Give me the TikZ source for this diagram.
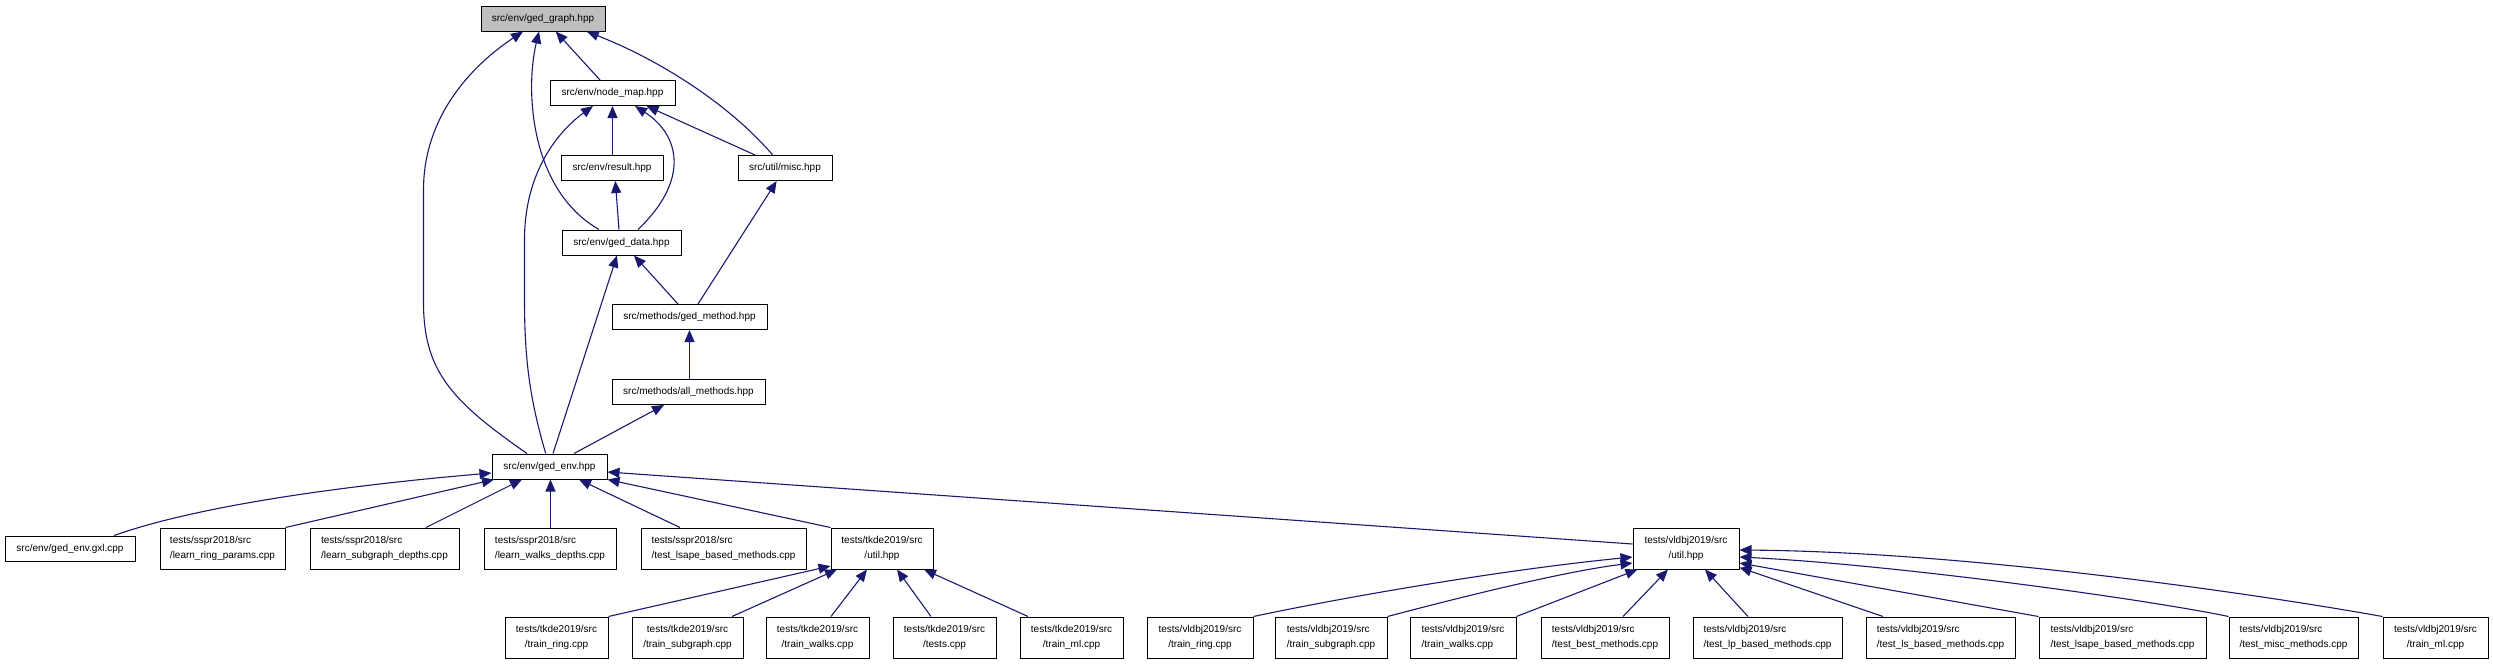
\documentclass[tikz,border=0pt]{standalone}
\usepackage{fontspec}
\setmainfont{Liberation Sans}
\usetikzlibrary{arrows.meta}
\definecolor{edgeblue}{HTML}{191970}
\definecolor{rootgray}{HTML}{BFBFBF}
\tikzset{
  filebox/.style={draw=black, line width=1pt, inner sep=0pt, fill=white, font=\fontsize{10}{15}\selectfont},
  onel/.style={minimum height=25pt},
  twol/.style={minimum height=41pt},
  dep/.style={draw=edgeblue, line width=1.1pt, -{Triangle[length=12pt,width=10pt,fill=edgeblue]}},
}
\begin{document}
\begin{tikzpicture}[x=1pt,y=-1pt]
\useasboundingbox (0,0) rectangle (2493,664);
% upper part
\node[filebox,onel,fill=rootgray,minimum width=124pt] (gg) at (543,18.5) {src/env/ged\_graph.hpp};
\node[filebox,onel,minimum width=125pt] (nm) at (612.5,93) {src/env/node\_map.hpp};
\node[filebox,onel,minimum width=102pt] (res) at (612,168) {src/env/result.hpp};
\node[filebox,onel,minimum width=94pt] (misc) at (785,168) {src/util/misc.hpp};
\node[filebox,onel,minimum width=119pt] (gd) at (621.5,242.5) {src/env/ged\_data.hpp};
\node[filebox,onel,minimum width=155pt] (gm) at (689.5,317) {src/methods/ged\_method.hpp};
\node[filebox,onel,minimum width=153pt] (am) at (688.5,392) {src/methods/all\_methods.hpp};
\node[filebox,onel,minimum width=115pt] (ge) at (549.5,466.5) {src/env/ged\_env.hpp};
% second row
\node[filebox,onel,minimum width=130pt] (gxl) at (70,548.5) {src/env/ged\_env.gxl.cpp};
\node[filebox,twol,align=left,minimum width=125pt] (lrp) at (222.5,548.5) {tests/sspr2018/src\\/learn\_ring\_params.cpp};
\node[filebox,twol,align=left,minimum width=149pt] (lsd) at (384.5,548.5) {tests/sspr2018/src\\/learn\_subgraph\_depths.cpp};
\node[filebox,twol,align=left,minimum width=132pt] (lwd) at (550,548.5) {tests/sspr2018/src\\/learn\_walks\_depths.cpp};
\node[filebox,twol,align=left,minimum width=165pt] (tlb) at (723.5,548.5) {tests/sspr2018/src\\/test\_lsape\_based\_methods.cpp};
\node[filebox,twol,align=center,minimum width=102pt] (tku) at (882,548.5) {tests/tkde2019/src\\/util.hpp};
\node[filebox,twol,align=center,minimum width=106pt] (vu) at (1686,548.5) {tests/vldbj2019/src\\/util.hpp};
% third row
\node[filebox,twol,align=center,minimum width=103pt] (ktr) at (556.5,637.5) {tests/tkde2019/src\\/train\_ring.cpp};
\node[filebox,twol,align=center,minimum width=111pt] (kts) at (687.5,637.5) {tests/tkde2019/src\\/train\_subgraph.cpp};
\node[filebox,twol,align=center,minimum width=103pt] (ktw) at (817.5,637.5) {tests/tkde2019/src\\/train\_walks.cpp};
\node[filebox,twol,align=center,minimum width=103pt] (ktt) at (944.5,637.5) {tests/tkde2019/src\\/tests.cpp};
\node[filebox,twol,align=center,minimum width=103pt] (ktm) at (1071.5,637.5) {tests/tkde2019/src\\/train\_ml.cpp};
\node[filebox,twol,align=center,minimum width=106pt] (vtr) at (1200,637.5) {tests/vldbj2019/src\\/train\_ring.cpp};
\node[filebox,twol,align=left,minimum width=112pt] (vts) at (1331,637.5) {tests/vldbj2019/src\\/train\_subgraph.cpp};
\node[filebox,twol,align=left,minimum width=106pt] (vtw) at (1463,637.5) {tests/vldbj2019/src\\/train\_walks.cpp};
\node[filebox,twol,align=left,minimum width=128pt] (vtb) at (1605,637.5) {tests/vldbj2019/src\\/test\_best\_methods.cpp};
\node[filebox,twol,align=left,minimum width=149pt] (vtlp) at (1767.5,637.5) {tests/vldbj2019/src\\/test\_lp\_based\_methods.cpp};
\node[filebox,twol,align=left,minimum width=149pt] (vtls) at (1940.5,637.5) {tests/vldbj2019/src\\/test\_ls\_based\_methods.cpp};
\node[filebox,twol,align=left,minimum width=167pt] (vtlsape) at (2122.5,637.5) {tests/vldbj2019/src\\/test\_lsape\_based\_methods.cpp};
\node[filebox,twol,align=left,minimum width=129pt] (vtmisc) at (2293.5,637.5) {tests/vldbj2019/src\\/test\_misc\_methods.cpp};
\node[filebox,twol,align=center,minimum width=105pt] (vtml) at (2435.5,637.5) {tests/vldbj2019/src\\/train\_ml.cpp};
% edges, upper part
\draw[dep] ([xshift=-12.5pt]nm.north) -- ([xshift=12.7pt]gg.south);
\draw[dep] ([xshift=-12.3pt]misc.north) .. controls (730,105) and (660,60) .. ([xshift=43.7pt]gg.south);
\draw[dep] ([xshift=-22.5pt]gd.north) .. controls (530,190) and (525,90) .. ([xshift=-4pt]gg.south);
\draw[dep] ([xshift=-22.5pt]ge.north) .. controls (450,400) and (423,370) .. (423.5,300) -- (423.5,190) .. controls (423.5,110) and (480,60) .. ([xshift=-20pt]gg.south);
\draw[dep] ([xshift=0.5pt]res.north) -- (nm.south);
\draw[dep] ([xshift=16.5pt]gd.north) .. controls (690,180) and (680,135) .. ([xshift=22.5pt]nm.south);
\draw[dep] ([xshift=-30pt]misc.north) -- ([xshift=34pt]nm.south);
\draw[dep] ([xshift=-3.8pt]ge.north) .. controls (530,400) and (524.5,360) .. (524.5,300) -- (524.5,240) .. controls (524.5,170) and (560,130) .. ([xshift=-19.5pt]nm.south);
\draw[dep] ([xshift=-2.5pt]gd.north) -- ([xshift=3.3pt]res.south);
\draw[dep] ([xshift=-11.5pt]gm.north) -- ([xshift=12.5pt]gd.south);
\draw[dep] ([xshift=8.5pt]gm.north) -- ([xshift=-8.3pt]misc.south);
\draw[dep] ([xshift=3.5pt]ge.north) -- ([xshift=-4.5pt]gd.south);
\draw[dep] ([xshift=1pt]am.north) -- (gm.south);
\draw[dep] ([xshift=24.5pt]ge.north) -- ([xshift=-24.5pt]am.south);
% edges into ged_env
\draw[dep] ([xshift=44pt]gxl.north) .. controls (200,505) and (350,485) .. ([yshift=-6.5pt]ge.west);
\draw[dep] (lrp.north east) -- ([xshift=2.5pt]ge.south west);
\draw[dep] ([xshift=41.5pt]lsd.north) -- ([xshift=-27.5pt]ge.south);
\draw[dep] ([xshift=0.5pt]lwd.north) -- ([xshift=0.5pt]lwd.north |- ge.south);
\draw[dep] ([xshift=-43.5pt]tlb.north) -- ([xshift=29.5pt]ge.south);
\draw[dep] (tku.north west) -- (ge.south east);
\draw[dep] ([yshift=4.5pt]vu.west) -- ([yshift=-5.5pt]ge.east);
% edges into tkde util
\draw[dep] (ktr.north east) -- ([yshift=-17.5pt]tku.west);
\draw[dep] ([xshift=44.5pt]kts.north) -- ([xshift=-45pt]tku.south);
\draw[dep] ([xshift=13.5pt]ktw.north) -- ([xshift=-15pt]tku.south);
\draw[dep] ([xshift=-13.5pt]ktt.north) -- ([xshift=15pt]tku.south);
\draw[dep] ([xshift=-43.5pt]ktm.north) -- ([xshift=42pt]tku.south);
% edges into vldbj util
\draw[dep] (vtr.north east) .. controls (1340,598) and (1500,570) .. ([yshift=-8.5pt]vu.west);
\draw[dep] (vts.north east) .. controls (1450,600) and (1560,572) .. ([yshift=-14.5pt]vu.west);
\draw[dep] (vtw.north east) -- ([xshift=5pt]vu.south west);
\draw[dep] ([xshift=18pt]vtb.north) -- ([xshift=-18pt]vu.south);
\draw[dep] ([xshift=-19.5pt]vtlp.north) -- ([xshift=19pt]vu.south);
\draw[dep] ([xshift=-57.5pt]vtls.north) -- ([yshift=2pt]vu.south east);
\draw[dep] (vtlsape.north west) -- ([yshift=-14.5pt]vu.east);
\draw[dep] (vtmisc.north west) .. controls (2150,600) and (1900,565) .. ([yshift=-8.5pt]vu.east);
\draw[dep] (vtml.north west) .. controls (2280,598) and (1980,552) .. ([yshift=-1.5pt]vu.east);
\end{tikzpicture}
\end{document}
